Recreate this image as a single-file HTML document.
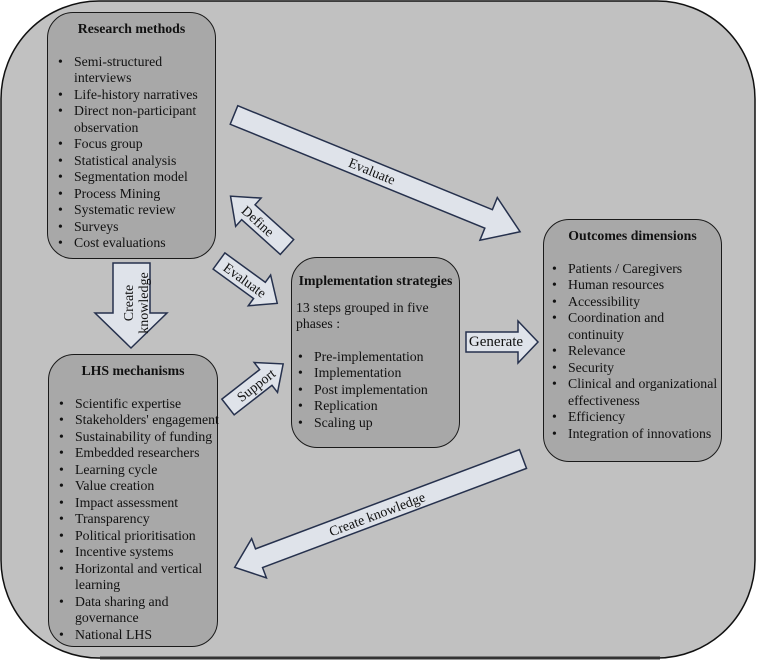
<!DOCTYPE html>
<html><head><meta charset="utf-8"><style>
html,body{margin:0;padding:0;background:#fff;}
#c{position:relative;width:757px;height:662px;overflow:hidden;font-family:"Liberation Serif",serif;color:#111;}
svg{position:absolute;left:0;top:0;}
.box{position:absolute;background:#a8a8a8;border:1.5px solid #1a1a1a;border-radius:26px;box-sizing:border-box;font-size:13.8px;line-height:16.5px;}
.box h{display:block;font-weight:bold;text-align:center;}
.box ul{margin:0;padding:0;list-style:none;}
.box li{position:relative;padding-left:26px;}
.box li:before{content:"•";position:absolute;left:10px;}
</style></head><body><div id="c">
<svg width="757" height="662">
<rect x="1" y="1" width="754" height="657" rx="98" ry="98" fill="#c1c1c1" stroke="#111" stroke-width="1.5"/>
<line x1="100" y1="658" x2="660" y2="658" stroke="#333" stroke-width="3"/>
<g fill="#dfe3ea" stroke="#26314d" stroke-width="1.5">
<g transform="translate(234,115) rotate(22.2)"><polygon points="0,-10 275,-10 275,-23 309,0 275,23 275,10 0,10"/></g>
<g transform="translate(287,247) rotate(222)"><polygon points="0,-10 52,-10 52,-19 76,0 52,19 52,10 0,10"/></g>
<g transform="translate(219,261) rotate(36)"><polygon points="0,-10 50,-10 50,-19 72,0 50,19 50,10 0,10"/></g>
<g transform="translate(228,407) rotate(-38)"><polygon points="0,-10 48,-10 48,-19 70,0 48,19 48,10 0,10"/></g>
<polygon points="466,332 518,332 518,321 538,342 518,363 518,352 466,352"/>
<polygon points="113,263 150,263 150,313 167,313 131,348 95,313 113,313"/>
<g transform="translate(523,459) rotate(159.4)"><polygon points="0,-10 282,-10 282,-21 308,0 282,21 282,10 0,10"/></g>
</g>
<g font-family="Liberation Serif,serif" font-size="14" fill="#111">
<text transform="translate(372,171) rotate(22.2)" text-anchor="middle" dy="0.35em">Evaluate</text>
<text transform="translate(258,221) rotate(42)" text-anchor="middle" dy="0.35em">Define</text>
<text transform="translate(245,280) rotate(36)" text-anchor="middle" dy="0.35em">Evaluate</text>
<text transform="translate(256,385) rotate(-38)" text-anchor="middle" dy="0.35em">Support</text>
<text x="496" y="346" text-anchor="middle" font-size="15">Generate</text>
<text transform="translate(133,303) rotate(-90)" text-anchor="middle">Create</text>
<text transform="translate(148,303) rotate(-90)" text-anchor="middle">knowledge</text>
<text transform="translate(377,514) rotate(-20.6)" text-anchor="middle" dy="0.35em">Create knowledge</text>
</g>
</svg>
<div class="box" style="left:47px;top:12px;width:169px;height:247px;padding-top:8px;">
<h>Research methods</h><div style="height:16px"></div>
<ul style="margin-right:10px"><li>Semi-structured interviews</li><li style="white-space:nowrap">Life-history narratives</li><li>Direct non-participant observation</li><li>Focus group</li><li>Statistical analysis</li><li>Segmentation model</li><li>Process Mining</li><li>Systematic review</li><li>Surveys</li><li>Cost evaluations</li></ul>
</div>
<div class="box" style="left:48px;top:354px;width:170px;height:293px;padding-top:8px;">
<h>LHS mechanisms</h><div style="height:16px"></div>
<ul style="margin-right:-6px"><li>Scientific expertise</li><li style="white-space:nowrap">Stakeholders' engagement</li><li>Sustainability of funding</li><li>Embedded researchers</li><li>Learning cycle</li><li>Value creation</li><li>Impact assessment</li><li>Transparency</li><li>Political prioritisation</li><li>Incentive systems</li><li>Horizontal and vertical learning</li><li>Data sharing and governance</li><li>National LHS</li></ul>
</div>
<div class="box" style="left:291px;top:257px;width:169px;height:191px;padding-top:15px;">
<h style="white-space:nowrap">Implementation strategies</h>
<div style="padding:10px 6px 0 4px">13 steps grouped in five phases :</div><div style="height:16px"></div>
<ul style="margin-left:-4px"><li>Pre-implementation</li><li>Implementation</li><li>Post implementation</li><li>Replication</li><li>Scaling up</li></ul>
</div>
<div class="box" style="left:543px;top:219px;width:179px;height:243px;padding-top:8px;">
<h>Outcomes dimensions</h><div style="height:16px"></div>
<ul style="margin-left:-2px;margin-right:-8px"><li>Patients / Caregivers</li><li>Human resources</li><li>Accessibility</li><li>Coordination and<br>continuity</li><li>Relevance</li><li>Security</li><li style="white-space:nowrap">Clinical and organizational<br>effectiveness</li><li>Efficiency</li><li style="white-space:nowrap">Integration of innovations</li></ul>
</div>
</div></body></html>
